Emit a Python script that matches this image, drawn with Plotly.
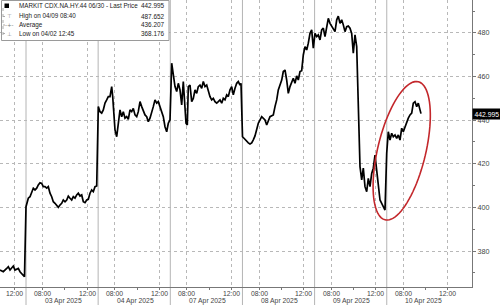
import numpy as np
import plotly.graph_objects as go

# ---------------- data ----------------
# session position in bars (1 bar ~ 5.4 min of trading time, gaps removed)
bar = [
    # 02 Apr
    0, 3.3, 6.7, 8.3, 10, 13.3, 15, 18.3, 20, 23.3, 24.5,
    # 03 Apr
    26, 28.3, 30, 31.7, 33.3, 35, 36.7, 38.3, 40, 41.7, 43.3, 45, 46.7, 48.3, 50, 51.7,
    53.3, 55, 56.7, 58.3, 60, 61.7, 63.3, 65, 66.7, 68.3, 70, 71.7, 73.3, 75, 76.7, 78.3,
    80, 81.7, 83.3, 85, 86.7, 88.3, 90, 91.7, 93.3, 95, 96.7,
    # 04 Apr
    98.3, 100, 101.7, 103.3, 105, 106.7, 108.3, 110, 111.7, 112.7, 114, 115, 116.7, 118.3,
    120, 121.7, 123.3, 125, 126.7, 128.3, 130, 131.7, 133.3, 135, 136.7, 138.3, 140, 141.7,
    143.3, 145, 146.7, 148.3, 150, 151.7, 153.3, 155, 156.7, 158.3, 160, 161.7, 163.3, 165,
    166.7, 168.3, 170,
    # 07 Apr
    171.7, 173.3, 175, 176.7, 178.3, 180, 181.7, 183.3, 185, 186, 187.3, 188.3, 190, 191.7,
    193.3, 195, 196.7, 198.3, 200, 201.7, 203.3, 205, 206.7, 208.3, 210, 211.7, 213.3, 215,
    216.7, 218.3, 220, 221.7, 223.3, 225, 226.7, 228.3, 230, 231.7, 233.3, 235, 236.7, 238.3,
    240, 241,
    # 08 Apr
    242.5, 244, 246, 248.3, 250, 251.7, 253.3, 255, 258.3, 261.7, 265, 266.7, 270, 273.3,
    275, 276.7, 278.3, 281.7, 283.3, 285, 286.7, 288.3, 290, 293.3, 295, 296.7, 298.3, 300,
    301.7, 303.3, 305, 306.7, 308.3, 310, 311.7, 313.3,
    # 09 Apr
    315, 316.7, 318.3, 320, 321.7, 323.3, 325, 326.7, 328.3, 330, 331.7, 333.3, 335, 336.7,
    338.3, 340, 341.7, 343.3, 345, 346.7, 348.3, 350, 351.7, 353.3, 355, 356.7, 358.3, 360,
    361.7, 363.3, 365, 366.7, 368.3, 370, 371.7, 373.3, 375, 376.7, 378.3, 380, 381.7, 383.3,
    385,
    # 10 Apr
    386.7, 388.3, 390, 391.7, 393.3, 395, 396.7, 398.3, 400, 401.7, 403.3, 405, 406.7, 408.3,
    410, 411.7, 413.3, 415, 416.7, 418.3, 420, 421,
]
price = [
    371.3, 370.5, 372.0, 372.8, 371.3, 373.1, 371.3, 372.0, 370.5, 369.0, 368.2,
    400.3, 404.2, 404.9, 407.2, 408.8, 408.0, 408.8, 410.3, 411.3, 411.0, 409.5, 409.5, 408.8,
    409.5, 406.5, 404.9, 402.6, 401.9, 400.6, 400.0, 401.1, 401.9, 403.4, 402.6, 403.4, 405.2,
    404.2, 403.4, 404.9, 404.2, 405.7, 406.5, 405.2, 405.7, 402.6, 402.2, 403.4, 403.7, 406.5,
    408.0, 407.2, 409.5, 409.8,
    446.2, 443.9, 443.2, 444.7, 447.8, 449.3, 450.8, 450.8, 455.4, 450.8, 441.6, 435.5, 432.4,
    440.1, 444.7, 441.6, 443.9, 440.9, 441.6, 440.4, 444.7, 443.9, 445.4, 442.4, 441.6, 443.9,
    448.5, 446.2, 443.9, 442.4, 441.6, 439.3, 440.9, 443.2, 446.2, 449.3, 447.8, 448.5, 446.2,
    444.7, 441.6, 437.0, 434.7, 438.6, 440.1,
    466.1, 461.5, 455.4, 453.1, 456.9, 453.9, 447.0, 457.7, 446.2, 438.6, 437.8, 455.4, 456.1,
    448.5, 450.0, 453.9, 452.3, 455.4, 456.1, 454.6, 457.7, 455.4, 456.1, 453.1, 450.8, 449.3,
    450.0, 448.5, 447.8, 448.5, 449.3, 447.8, 450.0, 449.3, 451.6, 450.8, 453.9, 455.4, 451.6,
    454.6, 456.9, 457.7, 456.1, 456.9,
    432.4, 431.7, 430.5, 429.6, 429.1, 429.6, 431.0, 432.8, 438.6, 441.6, 440.1, 437.8, 441.6,
    442.4, 446.2, 449.3, 453.9, 458.4, 462.3, 463.0, 458.4, 452.3, 455.4, 459.2, 456.9, 460.3,
    458.4, 462.3, 462.7, 469.9, 473.7, 472.2, 475.3, 479.8, 481.4, 473.0,
    479.8, 478.3, 479.1, 476.8, 481.4, 482.2, 478.3, 483.7, 486.7, 484.4, 482.9, 482.2, 480.6,
    486.0, 487.7, 484.4, 486.0, 483.7, 480.6, 482.9, 483.2, 482.2, 479.8, 470.7, 479.1, 473.7,
    449.3, 418.7, 412.6, 418.0, 409.5, 407.2, 413.3, 409.5, 415.6, 418.0, 424.0, 417.2, 409.5,
    403.4, 401.9, 400.3, 398.8,
    424.8, 434.7, 430.9, 434.0, 432.4, 433.2, 431.7, 433.2, 430.9, 436.3, 434.7, 437.0, 438.6,
    440.9, 442.4, 443.2, 447.8, 448.5, 446.2, 447.8, 444.7, 443.0,
]

days = ["03 Apr 2025", "04 Apr 2025", "07 Apr 2025", "08 Apr 2025", "09 Apr 2025", "10 Apr 2025"]
y_ticks = [380, 400, 420, 440, 460, 480]

legend_rows = [
    ("MARKIT CDX.NA.HY.44 06/30 - Last Price", "442.995"),
    ("High on 04/09 08:40", "487.652"),
    ("Average", "436.207"),
    ("Low on 04/02 12:45", "368.176"),
]
last_price = 442.995

# ---------------- session structure ----------------
bars_per_hour = 11.1
session_open, session_close = 6.5, 13.0
first_session_start = 26.0
session_len = (session_close - session_open) * bars_per_hour
seps = [first_session_start + k * session_len for k in range(len(days))]

def pos(sep, hour):
    return sep + (hour - session_open) * bars_per_hour

tickvals, ticktext = [pos(seps[0] - session_len, 12)], ["12:00"]
minor_vals = []
for s in seps:
    tickvals += [pos(s, 8), pos(s, 12)]
    ticktext += ["08:00", "12:00"]
    minor_vals.append(pos(s, 10))

# ---------------- figure ----------------
W, H = 500, 305
ml, mr, mt, mb = 0, 28, 0, 18
PW, PH = W - ml - mr, H - mt - mb
XR = [0, 472]
YR = [363.5, 495.1]
FONT = "Liberation Sans, Arial, sans-serif"
GREY = "#444444"

fig = go.Figure()
fig.add_trace(go.Scatter(x=bar, y=price, mode="lines",
                         line=dict(color="black", width=1.7), hoverinfo="skip",
                         showlegend=False))

def px2x(px):
    return XR[0] + px / PW * (XR[1] - XR[0])

def py2y(py):
    return YR[1] - py / PH * (YR[1] - YR[0])

def fx(px):
    return px / PW

def fy(py):
    return 1 - py / PH

shapes = []
# day separators (extend below the axis)
for s in seps:
    shapes.append(dict(type="line", xref="x", yref="paper", x0=s, x1=s, y0=-mb / PH, y1=1,
                       line=dict(color="#b4b4b4", width=1), layer="below"))

# red ellipse annotation
cx, cy = 401.7, 150.8
a_ax, b_ax = 71, 24
th = np.deg2rad(13.5)
u = np.array([np.sin(th), -np.cos(th)])
w = np.array([np.cos(th), np.sin(th)])
tt = np.linspace(0, 2 * np.pi, 90)
pts = [np.array([cx, cy]) + a_ax * np.cos(t) * u + b_ax * np.sin(t) * w for t in tt]
path = "M " + " L ".join(f"{px2x(p[0]):.3f},{py2y(p[1]):.3f}" for p in pts) + " Z"
shapes.append(dict(type="path", xref="x", yref="y", path=path,
                   line=dict(color="#c3272b", width=1.6)))

# legend box
shapes.append(dict(type="rect", xref="paper", yref="paper", x0=fx(1.5), x1=fx(169),
                   y0=fy(40.5), y1=fy(0.5), fillcolor="white",
                   line=dict(color="#9a9a9a", width=1), layer="above"))
shapes.append(dict(type="rect", xref="paper", yref="paper", x0=fx(4.5), x1=fx(9),
                   y0=fy(8), y1=fy(3.5), fillcolor="black", line=dict(width=0), layer="above"))
shapes.append(dict(type="line", xref="paper", yref="paper", x0=fx(3), x1=fx(3),
                   y0=fy(35), y1=fy(7), line=dict(color="#aaaaaa", width=1, dash="dot"),
                   layer="above"))
for ry in (16.5, 25, 33.5):
    shapes.append(dict(type="line", xref="paper", yref="paper", x0=fx(3), x1=fx(5),
                       y0=fy(ry), y1=fy(ry), line=dict(color="#aaaaaa", width=1, dash="dot"),
                       layer="above"))

annotations = []
row_y = [5.6, 16.5, 25.0, 33.5]
icons = ["", "\u22a4", "-+-", "\u22a5"]
for (label, val), ry, ic in zip(legend_rows, row_y, icons):
    annotations.append(dict(xref="paper", yref="paper", x=fx(17), y=fy(ry), text=label,
                            showarrow=False, xanchor="left", yanchor="middle",
                            font=dict(family=FONT, size=6.3, color="#222")))
    annotations.append(dict(xref="paper", yref="paper", x=fx(166.5), y=fy(ry), text=val,
                            showarrow=False, xanchor="right", yanchor="middle",
                            font=dict(family=FONT, size=6.4, color="#222")))
    if ic:
        annotations.append(dict(xref="paper", yref="paper", x=fx(9), y=fy(ry), text=ic,
                                showarrow=False, xanchor="center", yanchor="middle",
                                font=dict(family="DejaVu Sans", size=5.5, color="#777")))

# time-of-day labels
for tv, tx in zip(tickvals, ticktext):
    annotations.append(dict(xref="x", yref="paper", x=tv, y=fy(293.2), text=tx,
                            showarrow=False, xanchor="center", yanchor="middle",
                            font=dict(family=FONT, size=6.8, color=GREY)))
# date labels
for s, d in zip(seps, days):
    annotations.append(dict(xref="x", yref="paper", x=s + 37, y=fy(301), text=d,
                            showarrow=False, xanchor="center", yanchor="middle",
                            font=dict(family=FONT, size=6.8, color=GREY)))

# last price tag
annotations.append(dict(xref="paper", yref="y", x=1.0, y=last_price, text=f"{last_price:.3f}",
                        showarrow=False, xanchor="left", yanchor="middle",
                        bgcolor="black", borderpad=1.5,
                        font=dict(family=FONT, size=6.8, color="white")))

fig.update_layout(
    width=W, height=H, margin=dict(l=ml, r=mr, t=mt, b=mb),
    paper_bgcolor="white", plot_bgcolor="white",
    shapes=shapes, annotations=annotations,
    xaxis=dict(range=XR, tickmode="array", tickvals=tickvals, ticktext=ticktext,
               showticklabels=False,
               showgrid=True, gridcolor="#b8b8b8", griddash="dot", gridwidth=1,
               showline=True, linecolor="#777", linewidth=1, zeroline=False,
               ticks="outside", ticklen=2, tickcolor="#777",
               minor=dict(tickvals=minor_vals, ticks="outside", ticklen=2, tickcolor="#777",
                          showgrid=False),
               fixedrange=True),
    yaxis=dict(range=YR, side="right", tickmode="array", tickvals=y_ticks,
               ticktext=[str(v) for v in y_ticks],
               showgrid=True, gridcolor="#b8b8b8", griddash="dot", gridwidth=1,
               showline=True, linecolor="#777", linewidth=1, zeroline=False,
               ticks="outside", ticklen=3, tickcolor="#777",
               tickfont=dict(family=FONT, size=7.2, color=GREY),
               minor=dict(tickvals=[370, 390, 410, 430, 450, 470, 490], ticks="outside",
                          ticklen=2, tickcolor="#777", showgrid=False),
               fixedrange=True),
)

fig.write_html("out.html")
